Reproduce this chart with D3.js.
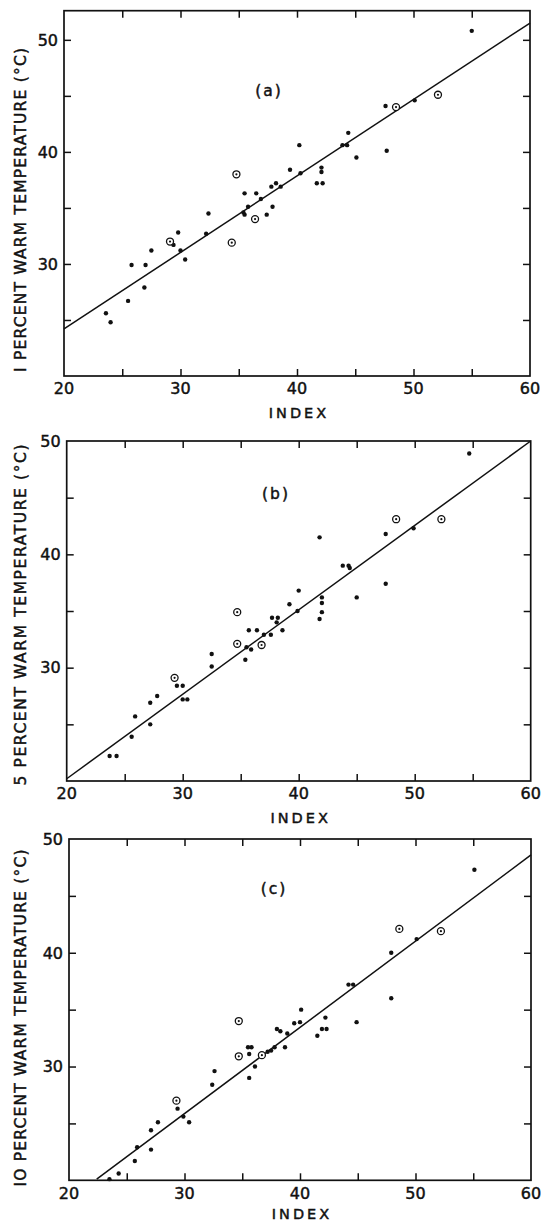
<!DOCTYPE html>
<html><head><meta charset="utf-8">
<script src="https://cdn.jsdelivr.net/npm/d3@7"></script>
<style>
body{margin:0;background:#fff}
svg{display:block}
text{font-family:"DejaVu Sans",sans-serif;fill:#111;stroke:#111;stroke-width:0.45px}
</style>
</head><body>
<svg id="chart" width="545" height="1221"></svg>
<script>
// ---- data ----
const xTickLabels = [20, 30, 40, 50, 60];
const xTickMarks = [25, 30, 35, 40, 45, 50, 55];
const yTickLabels = [30, 40, 50];
const yTickMarks = [25, 30, 35, 40, 45, 50];
const panelLabels = ["(a)", "(b)", "(c)"];
const yTitles = ["I PERCENT WARM TEMPERATURE (°C)", "5 PERCENT WARM TEMPERATURE (°C)", "IO PERCENT WARM TEMPERATURE (°C)"];
const xTitle = "INDEX";

const aDots = [[55.0,50.8],[47.6,44.1],[50.1,44.6],[44.4,41.7],[43.9,40.6],[44.3,40.6],[45.1,39.5],[47.7,40.1],[40.2,40.6],[39.4,38.4],[40.3,38.1],[42.1,38.6],[42.1,38.2],[41.7,37.2],[42.2,37.2],[37.8,36.9],[38.2,37.2],[38.6,36.9],[35.5,36.3],[36.5,36.3],[36.9,35.8],[35.8,35.1],[37.9,35.1],[35.4,34.6],[35.5,34.4],[37.4,34.4],[32.4,34.5],[32.2,32.7],[29.8,32.8],[29.4,31.7],[30.0,31.2],[30.4,30.4],[27.5,31.2],[25.8,29.9],[27.0,29.9],[26.9,27.9],[25.5,26.7],[23.6,25.6],[24.0,24.8]];
const aCircles = [[52.1,45.1],[48.5,44.0],[34.8,38.0],[36.4,34.0],[34.4,31.9],[29.1,32.0]];
const aLine = [[20,24.2],[60,51.5]];

const bDots = [[54.7,48.9],[49.9,42.3],[47.5,41.8],[41.8,41.5],[43.8,39.0],[44.3,39.0],[44.4,38.8],[47.5,37.4],[40.0,36.8],[45.0,36.2],[42.0,36.2],[42.0,35.7],[42.0,34.9],[41.8,34.3],[39.2,35.6],[39.9,35.0],[37.7,34.4],[38.2,34.4],[38.1,34.0],[38.6,33.3],[35.7,33.3],[36.4,33.3],[37.0,32.9],[37.6,32.9],[35.5,31.8],[35.9,31.6],[35.4,30.7],[32.5,31.2],[32.5,30.1],[29.5,28.4],[30.0,28.4],[30.0,27.2],[30.4,27.2],[27.8,27.5],[27.2,26.9],[27.2,25.0],[25.9,25.7],[25.6,23.9],[23.7,22.2],[24.3,22.2]];
const bCircles = [[48.4,43.1],[52.3,43.1],[34.7,34.9],[34.7,32.1],[36.8,32.0],[29.3,29.1]];
const bLine = [[20,20.2],[60,50]];

const cDots = [[55.1,47.3],[50.1,41.2],[47.9,40.0],[44.2,37.2],[44.6,37.2],[47.9,36.0],[40.1,35.0],[42.2,34.3],[44.9,33.9],[39.5,33.8],[40.0,33.9],[41.9,33.3],[42.3,33.3],[41.5,32.7],[38.0,33.3],[38.3,33.1],[38.9,32.9],[38.7,31.7],[37.8,31.7],[37.2,31.3],[37.5,31.4],[35.5,31.7],[35.8,31.7],[35.6,31.1],[36.1,30.0],[35.6,29.0],[32.6,29.6],[32.4,28.4],[29.4,26.3],[29.9,25.6],[30.4,25.1],[27.7,25.1],[27.1,24.4],[27.1,22.7],[25.9,22.9],[25.7,21.7],[24.3,20.6],[23.5,20.1]];
const cCircles = [[48.6,42.1],[52.2,41.9],[34.7,34.0],[36.7,31.0],[34.7,30.9],[29.3,27.0]];
const cLine = [[22.4,20.1],[60,48.6]];

const xDomain = [20, 60];
const yDomains = [[20, 52.6], [20, 50], [20, 50]];

// ---- layout (pixels) ----
const frames = [
  {left: 64, right: 530, top: 10.7, bottom: 376, label: [269, 90], titleY: 210, titleLen: 324},
  {left: 66.7, right: 530.7, top: 441, bottom: 781, label: [276, 493], titleY: 615, titleLen: 341},
  {left: 69, right: 531, top: 839, bottom: 1180.3, label: [274, 888], titleY: 1018, titleLen: 337}
];
const dotsSets = [aDots, bDots, cDots];
const circleSets = [aCircles, bCircles, cCircles];
const lineSets = [aLine, bLine, cLine];

const svg = d3.select("#chart");
const ink = "#111";

frames.forEach((f, i) => {
  const x = d3.scaleLinear().domain(xDomain).range([f.left, f.right]);
  const y = d3.scaleLinear().domain(yDomains[i]).range([f.bottom, f.top]);
  const g = svg.append("g");
  const yMax = yDomains[i][1];
  const yMarks = yTickMarks.filter(v => v > yDomains[i][0] && v < yMax);

  // inward tick marks on all four sides
  const tk = 7;
  g.append("g").attr("transform", `translate(0,${f.bottom})`)
    .call(d3.axisBottom(x).tickValues(xTickMarks).tickSize(-tk).tickFormat(""));
  g.append("g").attr("transform", `translate(0,${f.top})`)
    .call(d3.axisTop(x).tickValues(xTickMarks).tickSize(-tk).tickFormat(""));
  g.append("g").attr("transform", `translate(${f.left},0)`)
    .call(d3.axisLeft(y).tickValues(yMarks).tickSize(-tk).tickFormat(""));
  g.append("g").attr("transform", `translate(${f.right},0)`)
    .call(d3.axisRight(y).tickValues(yMarks).tickSize(-tk).tickFormat(""));
  g.selectAll(".domain").remove();
  g.selectAll(".tick line").attr("stroke", ink).attr("stroke-width", 1.5);

  // frame
  g.append("rect").attr("x", f.left).attr("y", f.top)
    .attr("width", f.right - f.left).attr("height", f.bottom - f.top)
    .attr("fill", "none").attr("stroke", ink).attr("stroke-width", 1.7);

  // tick labels
  g.selectAll(".xl").data(xTickLabels).join("text")
    .attr("x", d => x(d)).attr("y", f.bottom + 18.3)
    .attr("text-anchor", "middle").attr("font-size", 16).text(d => d);
  g.selectAll(".yl").data(yTickLabels).join("text")
    .attr("x", f.left - 6).attr("y", d => y(d)).attr("dy", "0.36em")
    .attr("text-anchor", "end").attr("font-size", 16).text(d => d);

  // axis titles
  g.append("text").attr("x", (f.left + f.right) / 2 + 2).attr("y", Math.min(f.bottom + 41.5, 1219))
    .attr("text-anchor", "middle").attr("font-size", 14.5).attr("letter-spacing", 3).text(xTitle);
  g.append("text")
    .attr("transform", `translate(26,${f.titleY}) rotate(-90)`)
    .attr("text-anchor", "middle").attr("font-size", 15.5)
    .attr("textLength", f.titleLen).attr("lengthAdjust", "spacing")
    .text(yTitles[i]);

  // panel label
  g.append("text").attr("x", f.label[0]).attr("y", f.label[1]).attr("dy", "0.36em")
    .attr("text-anchor", "middle").attr("font-size", 15.5).attr("letter-spacing", 2)
    .text(panelLabels[i]);

  // regression line
  g.append("path").datum(lineSets[i])
    .attr("d", d3.line().x(d => x(d[0])).y(d => y(d[1])))
    .attr("fill", "none").attr("stroke", ink).attr("stroke-width", 1.5);

  // points
  g.selectAll(".dot").data(dotsSets[i]).join("circle")
    .attr("cx", d => x(d[0])).attr("cy", d => y(d[1])).attr("r", 2.2).attr("fill", ink);
  const cg = g.selectAll(".ring").data(circleSets[i]).join("g");
  cg.append("circle").attr("cx", d => x(d[0])).attr("cy", d => y(d[1])).attr("r", 3.5)
    .attr("fill", "#fff").attr("stroke", ink).attr("stroke-width", 1.3);
  cg.append("circle").attr("cx", d => x(d[0])).attr("cy", d => y(d[1])).attr("r", 1.1).attr("fill", ink);
});
</script>
</body></html>
